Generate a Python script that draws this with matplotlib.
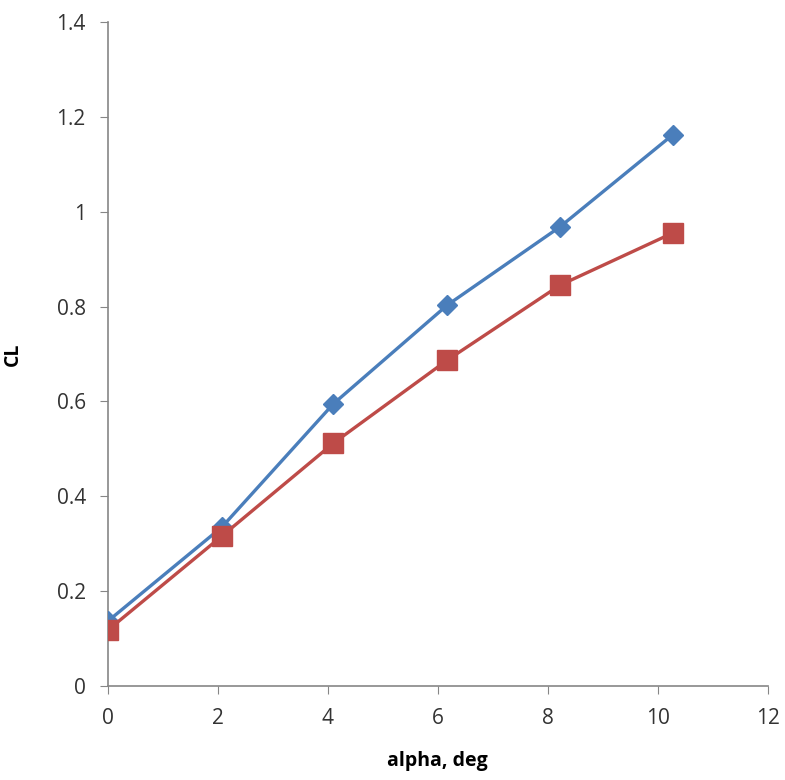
import matplotlib
matplotlib.use('Agg')
import matplotlib.pyplot as plt

# lift coefficient vs angle of attack, two series
alpha_blue = [0, 2.07, 4.1, 6.17, 8.22, 10.27]
cl_blue = [0.137, 0.335, 0.595, 0.803, 0.968, 1.162]
alpha_red = [0, 2.07, 4.1, 6.17, 8.22, 10.27]
cl_red = [0.118, 0.316, 0.512, 0.687, 0.845, 0.955]

x_ticks = [0, 2, 4, 6, 8, 10, 12]
y_ticks = [0, 0.2, 0.4, 0.6, 0.8, 1, 1.2, 1.4]
y_labels = ['0', '0.2', '0.4', '0.6', '0.8', '1', '1.2', '1.4']

plt.rcParams['font.family'] = ['Open Sans', 'DejaVu Sans']

fig = plt.figure(figsize=(7.85, 7.80), dpi=100)
ax = fig.add_axes([0.1376, 0.1205, 0.8404, 0.8513])

ax.plot(alpha_blue, cl_blue, color='#4A7EBB', lw=2.4, marker='D', ms=10,
        markerfacecolor='#4A7EBB', markeredgecolor='#4A7EBB', zorder=3)
ax.plot(alpha_red, cl_red, color='#BE4B48', lw=2.4, marker='s', ms=14,
        markerfacecolor='#BE4B48', markeredgecolor='#BE4B48', zorder=4)

ax.set_xlim(0, 12)
ax.set_ylim(0, 1.4)
ax.set_xticks(x_ticks)
ax.set_yticks(y_ticks)
ax.set_yticklabels(y_labels)
ax.tick_params(direction='out', length=6, color='#868686', labelsize=15,
               labelcolor='#333333', pad=10)

for side in ['top', 'right']:
    ax.spines[side].set_visible(False)
for side in ['left', 'bottom']:
    ax.spines[side].set_color('#868686')
    ax.spines[side].set_linewidth(1.2)

ax.set_xlabel('alpha, deg', fontsize=14, fontweight='bold', labelpad=16)
ax.set_ylabel('CL', fontsize=14, fontweight='bold', labelpad=24)

fig.savefig('out.png', dpi=100)
